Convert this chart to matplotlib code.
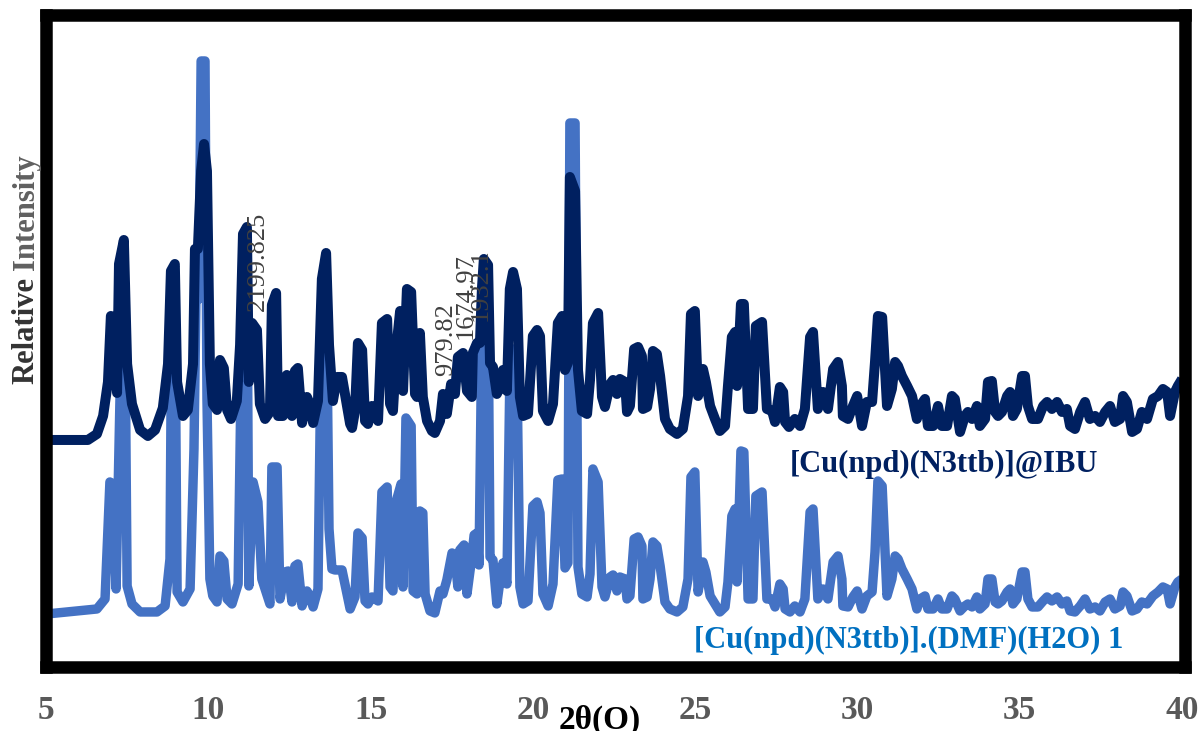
import matplotlib
matplotlib.use('Agg')
import matplotlib.pyplot as plt

# XRD patterns (2theta in degrees, intensity in a.u. with offset)
tt_mof = [5.03, 6.57, 6.82, 6.97, 7.06, 7.16, 7.28, 7.35, 7.43, 7.50, 7.65, 7.90, 8.42, 8.67,
          8.82, 8.88, 8.97, 9.04, 9.22, 9.44, 9.56, 9.62, 9.71, 9.78, 9.90, 9.96, 10.05, 10.14,
          10.27, 10.36, 10.48, 10.58, 10.73, 10.92, 11.07, 11.19, 11.25, 11.38, 11.53, 11.65,
          11.90, 11.96, 12.12, 12.21, 12.36, 12.46, 12.58, 12.67, 12.76, 12.89, 13.04, 13.13,
          13.23, 13.38, 13.50, 13.63, 13.72, 13.81, 13.90, 14.12, 14.21, 14.37, 14.52, 14.61,
          14.74, 14.83, 14.92, 15.04, 15.14, 15.23, 15.35, 15.51, 15.60, 15.69, 15.81, 15.94,
          16.00, 16.09, 16.25, 16.31, 16.43, 16.52, 16.61, 16.68, 16.83, 16.98, 17.14, 17.23,
          17.35, 17.51, 17.60, 17.69, 17.75, 17.88, 17.97, 18.12, 18.19, 18.28, 18.34, 18.43,
          18.49, 18.62, 18.68, 18.77, 18.89, 18.99, 19.08, 19.20, 19.29, 19.39, 19.51, 19.60,
          19.70, 19.85, 20.00, 20.13, 20.22, 20.31, 20.47, 20.62, 20.77, 20.90, 20.99, 21.08,
          21.14, 21.30, 21.39, 21.51, 21.67, 21.76, 21.85, 22.01, 22.13, 22.22, 22.38, 22.47,
          22.59, 22.68, 22.84, 22.90, 22.99, 23.12, 23.24, 23.36, 23.39, 23.52, 23.61, 23.70,
          23.82, 23.92, 24.07, 24.22, 24.44, 24.62, 24.78, 24.87, 24.99, 25.09, 25.24, 25.33,
          25.46, 25.61, 25.76, 25.92, 26.01, 26.13, 26.23, 26.29, 26.41, 26.50, 26.63, 26.78,
          26.87, 27.06, 27.21, 27.37, 27.46, 27.61, 27.71, 27.77, 27.92, 28.07, 28.23, 28.38,
          28.54, 28.63, 28.78, 28.94, 29.09, 29.25, 29.40, 29.52, 29.55, 29.71, 29.86, 29.99,
          30.14, 30.29, 30.45, 30.54, 30.63, 30.76, 30.91, 31.06, 31.16, 31.25, 31.37, 31.53,
          31.68, 31.83, 31.93, 32.08, 32.17, 32.33, 32.48, 32.60, 32.76, 32.91, 33.00, 33.16,
          33.31, 33.40, 33.53, 33.68, 33.77, 33.93, 34.02, 34.14, 34.24, 34.33, 34.45, 34.61,
          34.70, 34.79, 34.91, 35.07, 35.16, 35.25, 35.38, 35.56, 35.72, 35.84, 35.99, 36.15,
          36.30, 36.45, 36.55, 36.70, 36.86, 37.01, 37.16, 37.32, 37.47, 37.63, 37.78, 37.93,
          38.09, 38.18, 38.30, 38.46, 38.61, 38.76, 38.92, 39.10, 39.26, 39.41, 39.54, 39.63,
          39.78, 39.87, 40.00]
int_mof = [53, 58, 68, 185, 183, 78, 268, 368, 360, 81, 63, 55, 55, 61,
           108, 388, 383, 75, 65, 78, 218, 368, 368, 606, 606, 268, 88, 71,
           65, 111, 106, 68, 63, 83, 423, 428, 81, 185, 165, 88,
           63, 200, 200, 68, 95, 96, 65, 101, 103, 61, 76, 71,
           60, 78, 378, 398, 138, 98, 97, 97, 83, 58, 70, 134,
           129, 66, 63, 70, 68, 66, 175, 180, 80, 76, 168, 183,
           80, 249, 241, 76, 73, 156, 154, 73, 56, 54, 76, 73,
           87, 114, 110, 80, 117, 122, 73, 110, 132, 134, 102, 338,
           368, 363, 110, 107, 63, 87, 104, 83, 288, 318, 298, 80,
           63, 66, 161, 165, 154, 73, 61, 83, 187, 188, 99, 104,
           544, 544, 100, 73, 70, 93, 198, 185, 80, 70, 90, 92,
           76, 90, 88, 68, 71, 128, 130, 121, 68, 70, 88, 125,
           121, 101, 65, 58, 55, 60, 88, 190, 195, 75, 105, 95,
           71, 63, 55, 60, 85, 151, 158, 85, 216, 215, 68, 68,
           171, 175, 68, 68, 60, 83, 78, 58, 55, 61, 55, 68,
           155, 158, 68, 78, 68, 105, 111, 88, 61, 60, 70, 76,
           58, 71, 75, 115, 186, 181, 71, 88, 111, 108, 98, 88,
           78, 58, 68, 71, 58, 58, 68, 58, 58, 71, 68, 56,
           61, 63, 60, 70, 58, 63, 88, 88, 65, 63, 66, 75,
           78, 63, 68, 95, 95, 68, 60, 60, 66, 70, 66, 70,
           63, 66, 56, 55, 61, 68, 58, 60, 56, 65, 68, 58,
           61, 75, 71, 56, 58, 65, 63, 71, 75, 80, 78, 63,
           80, 85, 88]

tt_ibu = [5.03, 6.29, 6.57, 6.76, 6.91, 7.00, 7.09, 7.19, 7.25, 7.40, 7.50, 7.65, 7.90, 8.14,
          8.36, 8.60, 8.76, 8.85, 8.97, 9.04, 9.22, 9.37, 9.53, 9.59, 9.68, 9.78, 9.87, 9.96,
          10.05, 10.14, 10.27, 10.36, 10.48, 10.58, 10.70, 10.88, 10.98, 11.07, 11.19, 11.25,
          11.35, 11.50, 11.59, 11.75, 11.90, 11.96, 12.09, 12.15, 12.30, 12.42, 12.52, 12.58,
          12.67, 12.76, 12.89, 13.04, 13.13, 13.23, 13.38, 13.50, 13.63, 13.72, 13.84, 13.97,
          14.12, 14.21, 14.37, 14.43, 14.52, 14.61, 14.74, 14.83, 14.92, 15.04, 15.14, 15.23,
          15.35, 15.51, 15.60, 15.69, 15.81, 15.91, 16.00, 16.12, 16.25, 16.37, 16.43, 16.52,
          16.61, 16.74, 16.89, 16.98, 17.14, 17.23, 17.35, 17.48, 17.60, 17.69, 17.85, 17.97,
          18.12, 18.15, 18.28, 18.37, 18.43, 18.49, 18.62, 18.68, 18.77, 18.89, 18.99, 19.08,
          19.20, 19.29, 19.39, 19.51, 19.60, 19.70, 19.85, 20.00, 20.13, 20.22, 20.31, 20.47,
          20.62, 20.77, 20.90, 20.99, 21.08, 21.14, 21.30, 21.39, 21.51, 21.67, 21.76, 21.85,
          22.01, 22.13, 22.22, 22.38, 22.47, 22.59, 22.68, 22.84, 22.90, 22.99, 23.12, 23.24,
          23.36, 23.39, 23.52, 23.61, 23.70, 23.82, 23.92, 24.07, 24.22, 24.44, 24.62, 24.78,
          24.87, 24.99, 25.09, 25.24, 25.33, 25.46, 25.61, 25.76, 25.92, 26.01, 26.13, 26.23,
          26.29, 26.41, 26.50, 26.63, 26.78, 26.87, 27.06, 27.21, 27.37, 27.46, 27.61, 27.71,
          27.77, 27.89, 28.07, 28.23, 28.38, 28.54, 28.63, 28.78, 28.94, 29.09, 29.25, 29.40,
          29.52, 29.55, 29.71, 29.86, 29.99, 30.14, 30.29, 30.45, 30.54, 30.63, 30.76, 30.91,
          31.06, 31.16, 31.25, 31.37, 31.53, 31.68, 31.83, 31.93, 32.08, 32.17, 32.33, 32.48,
          32.60, 32.76, 32.91, 33.00, 33.16, 33.31, 33.40, 33.53, 33.68, 33.77, 33.93, 34.02,
          34.14, 34.24, 34.33, 34.45, 34.61, 34.70, 34.79, 34.91, 35.07, 35.16, 35.25, 35.38,
          35.56, 35.72, 35.84, 35.99, 36.15, 36.30, 36.45, 36.55, 36.70, 36.86, 37.01, 37.16,
          37.32, 37.47, 37.63, 37.78, 37.93, 38.09, 38.18, 38.30, 38.46, 38.61, 38.76, 38.92,
          39.10, 39.26, 39.41, 39.54, 39.63, 39.78, 39.87, 40.00]
int_ibu = [227, 227, 233, 251, 285, 351, 348, 274, 403, 427, 303, 263, 237, 231,
           237, 259, 303, 396, 403, 285, 251, 257, 303, 418, 418, 496, 523, 496,
           303, 263, 257, 307, 299, 257, 248, 266, 322, 433, 440, 285,
           344, 337, 263, 248, 255, 362, 374, 251, 251, 292, 290, 251,
           296, 299, 244, 270, 263, 244, 266, 388, 414, 322, 266, 290,
           290, 273, 243, 239, 256, 324, 317, 246, 243, 261, 260, 246,
           344, 348, 263, 256, 324, 356, 276, 378, 375, 273, 270, 334,
           270, 246, 236, 234, 246, 273, 253, 283, 273, 310, 314, 276,
           270, 314, 324, 324, 378, 408, 402, 304, 300, 273, 280, 297,
           276, 378, 395, 378, 270, 251, 253, 331, 337, 331, 256, 246,
           263, 344, 351, 297, 304, 490, 476, 297, 256, 253, 287, 344,
           354, 270, 260, 283, 287, 273, 288, 285, 255, 261, 318, 320,
           311, 258, 260, 278, 316, 313, 291, 248, 238, 233, 238, 271,
           353, 356, 271, 298, 285, 261, 248, 236, 241, 281, 330, 335,
           281, 363, 363, 258, 258, 341, 345, 258, 256, 245, 280, 275,
           245, 240, 248, 241, 258, 330, 335, 258, 275, 258, 298, 305,
           281, 251, 248, 261, 271, 241, 265, 265, 305, 351, 350, 261,
           278, 305, 301, 291, 281, 271, 248, 261, 268, 241, 241, 261,
           241, 241, 271, 268, 235, 251, 255, 248, 261, 241, 248, 285,
           286, 255, 251, 255, 271, 275, 251, 258, 291, 291, 261, 248,
           248, 261, 265, 258, 265, 255, 258, 241, 238, 255, 265, 248,
           251, 245, 255, 261, 245, 248, 271, 265, 235, 238, 255, 248,
           268, 271, 278, 275, 251, 275, 281, 288]

# peak annotations (text, 2theta, intensity at text base)
peak_labels = ['2199.825', '979.82', '1674.97', '1932.1']
peak_tt = [11.53, 17.32, 17.94, 18.40]
peak_int = [356, 291, 328, 346]

xticks = [5, 10, 15, 20, 25, 30, 35, 40]

plt.rcParams['font.family'] = ['Liberation Serif', 'DejaVu Serif']

fig = plt.figure(figsize=(12, 7.31), dpi=100)
ax = fig.add_axes([0.0383, 0.0876, 0.9492, 0.8919])

ax.plot(tt_mof, int_mof, color='#4472C4', lw=6.8, solid_joinstyle='round', solid_capstyle='butt')
ax.plot(tt_ibu, int_ibu, color='#002060', lw=7.2, solid_joinstyle='round', solid_capstyle='butt')

for lab, x, y in zip(peak_labels, peak_tt, peak_int):
    ax.text(x, y, lab, rotation=90, ha='center', va='bottom', fontsize=19, color='#404040')

ax.text(27.9, 203, '[Cu(npd)(N3ttb)]@IBU', fontsize=22, fontweight='bold', color='#002060',
        ha='left', va='center')
ax.text(24.95, 27, '[Cu(npd)(N3ttb)].(DMF)(H2O) 1', fontsize=22, fontweight='bold', color='#0070C0',
        ha='left', va='center')

ax.set_xlim(5, 40.09)
ax.set_ylim(0, 652)
ax.set_xticks(xticks)
ax.set_xticklabels([str(t) for t in xticks], fontsize=24, fontweight='bold', color='#595959')
ax.set_yticks([])
ax.tick_params(axis='x', direction='out', length=4, width=3, color='#404040', pad=16)
for s in ax.spines.values():
    s.set_linewidth(9)
    s.set_color('black')

fig.text(0.5, 0.036, '2\u03b8(O)', fontsize=24, fontweight='bold', color='black', ha='center', va='top')
fig.text(0.022, 1 - 384 / 731, 'Relative', rotation=90, fontsize=22, fontweight='bold',
         color='#333333', ha='center', va='bottom')
fig.text(0.022, 1 - 270 / 731, 'Intensity', rotation=90, fontsize=22, fontweight='bold',
         color='#606060', ha='center', va='bottom')

fig.savefig('out.png', dpi=100)
